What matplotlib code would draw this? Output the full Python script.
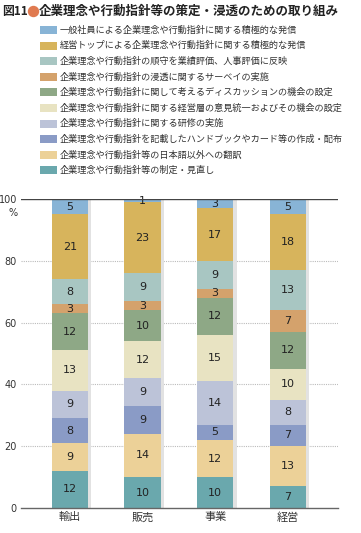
import matplotlib
matplotlib.use("Agg")
import matplotlib.pyplot as plt
from matplotlib.patches import Rectangle
import numpy as np

plt.rcParams['font.family'] = ['Noto Sans CJK JP', 'DejaVu Sans']

categories = ['輸出', '販売', '事業', '経営']

# legend order (top of list = top of stack)
series_names = [
    '一般社員による企業理念や行動指針に関する積極的な発信',
    '経営トップによる企業理念や行動指針に関する積極的な発信',
    '企業理念や行動指針の順守を業績評価、人事評価に反映',
    '企業理念や行動指針の浸透に関するサーベイの実施',
    '企業理念や行動指針に関して考えるディスカッションの機会の設定',
    '企業理念や行動指針に関する経営層の意見統一およびその機会の設定',
    '企業理念や行動指針に関する研修の実施',
    '企業理念や行動指針を記載したハンドブックやカード等の作成・配布',
    '企業理念や行動指針等の日本語以外への翻訳',
    '企業理念や行動指針等の制定・見直し',
]
series_colors = ['#88b4d6', '#d7b45c', '#a8c6c2', '#d4a26c', '#8ea886',
                 '#e8e3c2', '#bcc3d8', '#8a9bc6', '#ecd198', '#6aa8ad']

# values per series (same order as series_names), per category
ippan    = [5, 1, 3, 5]
top      = [21, 23, 17, 18]
hyoka    = [8, 9, 9, 13]
survey   = [3, 3, 3, 7]
discuss  = [12, 10, 12, 12]
keiei    = [13, 12, 15, 10]
kenshu   = [9, 9, 14, 8]
handbook = [8, 9, 5, 7]
honyaku  = [9, 14, 12, 13]
seitei   = [12, 10, 10, 7]

values = [ippan, top, hyoka, survey, discuss, keiei, kenshu, handbook, honyaku, seitei]

W, H = 361, 533
fig = plt.figure(figsize=(W / 100, H / 100), dpi=100)

# title
fig.text(2 / W, 1 - 11 / H, '図11', fontsize=8.5, fontweight='bold', color='#222', va='center', ha='left')
fig.add_artist(plt.Line2D([33 / W], [1 - 10.5 / H], marker='o', markersize=7.2,
                          color='#e07a50', transform=fig.transFigure))
fig.text(39 / W, 1 - 11 / H, '企業理念や行動指針等の策定・浸透のための取り組み', fontsize=9,
         fontweight='bold', color='#222', va='center', ha='left')

# legend
for i, (name, col) in enumerate(zip(series_names, series_colors)):
    yc = 30 + i * 15.6
    fig.add_artist(Rectangle((40 / W, 1 - (yc + 4) / H), 17 / W, 8 / H,
                             transform=fig.transFigure, color=col, lw=0))
    fig.text(60 / W, 1 - yc / H, name, fontsize=6.6, color='#333', va='center', ha='left')

ax = fig.add_axes([21 / W, 25 / H, 317 / W, 309 / H])
x = np.arange(len(categories))
width = 0.5

# shadows
ax.bar(x + 0.045, 100, width, color='#e2e2e2', zorder=1, lw=0)

bottom = np.zeros(len(categories))
for vals, col in zip(values[::-1], series_colors[::-1]):
    v = np.array(vals, dtype=float)
    ax.bar(x, v, width, bottom=bottom, color=col, zorder=2, lw=0)
    for xi, b, h in zip(x, bottom, v):
        ax.text(xi, b + h / 2, f'{int(h)}', ha='center', va='center', fontsize=8,
                color='#222', zorder=3, family='DejaVu Sans')
    bottom += v

ax.set_xlim(-0.67, 3.69)
ax.set_ylim(0, 100)
for yv in [20, 40, 60, 80]:
    ax.axhline(yv, color='#bbbbbb', lw=0.8, ls=(0, (1, 1)), zorder=0)
ax.axhline(100, color='#444444', lw=1.0, zorder=4)

for s in ['top', 'right', 'left']:
    ax.spines[s].set_visible(False)
ax.spines['bottom'].set_color('#666666')
ax.spines['bottom'].set_linewidth(1.0)
ax.spines['bottom'].set_zorder(5)

ax.set_yticks([0, 20, 40, 60, 80, 100])
ax.set_yticklabels(['0', '20', '40', '60', '80', '100'])
ax.tick_params(axis='y', length=0, pad=3, labelsize=7, labelcolor='#333')
ax.set_xticks(x)
ax.set_xticklabels(categories)
ax.tick_params(axis='x', length=0, pad=3, labelsize=8, labelcolor='#333')
for lbl in ax.get_yticklabels():
    lbl.set_family('DejaVu Sans')
ax.text(-0.72, 97, '%', ha='right', va='top', fontsize=7, color='#333', family='DejaVu Sans')

fig.savefig('out.png', dpi=100)
